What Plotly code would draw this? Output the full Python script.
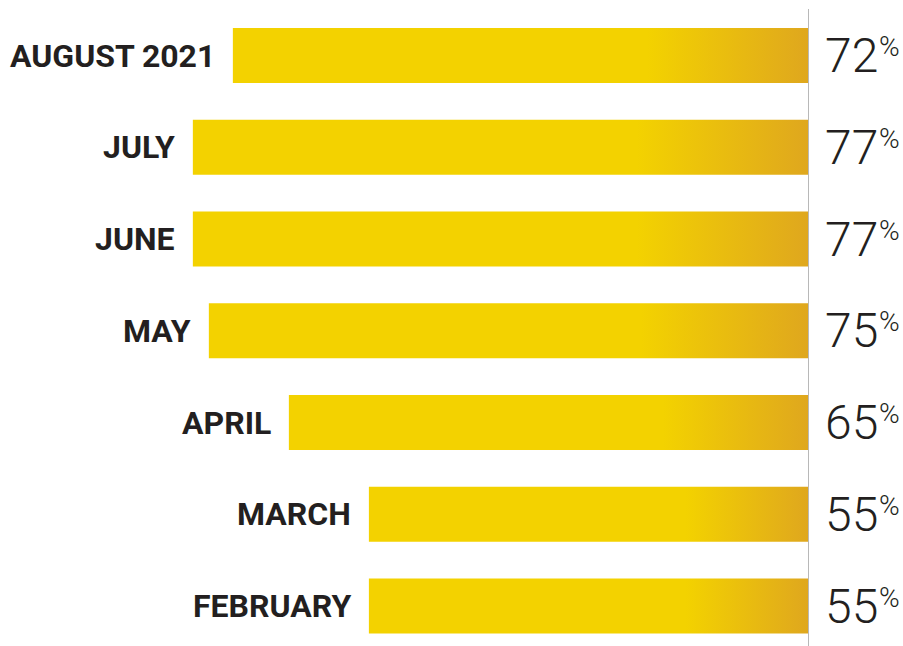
import plotly.graph_objects as go

months = ["AUGUST 2021", "JULY", "JUNE", "MAY", "APRIL", "MARCH", "FEBRUARY"]
values = [72, 77, 77, 75, 65, 55, 55]
value_labels = ["72", "77", "77", "75", "65", "55", "55"]

YELLOW = "#F3D200"
GOLD = "#DFA71E"
half = 0.30

fig = go.Figure()
for i, (m, v) in enumerate(zip(months, values)):
    fig.add_trace(go.Scatter(
        x=[0, v, v, 0, 0],
        y=[i - half, i - half, i + half, i + half, i - half],
        mode="lines", line=dict(width=0), fill="toself",
        fillgradient=dict(type="horizontal", start=0, stop=0.28 * v,
                          colorscale=[[0, GOLD], [1, YELLOW]]),
        hoverinfo="skip", showlegend=False,
    ))
    fig.add_annotation(x=v, y=i, text=m, xanchor="right", yanchor="middle",
                       showarrow=False, xshift=-16,
                       font=dict(family="Roboto", size=32, color="#231F20", weight="bold"))
    fig.add_annotation(x=0, y=i, text=value_labels[i], xanchor="left", yanchor="middle",
                       showarrow=False, xshift=14, yshift=0,
                       font=dict(family="Roboto", size=48, color="#231F20", weight=300))
    fig.add_annotation(x=0, y=i, text="%", xanchor="left", yanchor="middle",
                       showarrow=False, xshift=68, yshift=9,
                       font=dict(family="Roboto", size=28, color="#231F20", weight=300))

fig.add_shape(type="line", xref="x", yref="paper", x0=0, x1=0, y0=0, y1=1 - 9 / 646,
              line=dict(color="#B8B8B8", width=2))

fig.update_layout(
    width=903, height=646,
    margin=dict(l=0, r=94, t=0, b=0),
    paper_bgcolor="white", plot_bgcolor="white",
    xaxis=dict(range=[101.1, 0], visible=False, fixedrange=True),
    yaxis=dict(range=[-0.605 + 646 / 91.75, -0.605], visible=False, fixedrange=True),
    showlegend=False,
)
fig.write_html("out.html")
